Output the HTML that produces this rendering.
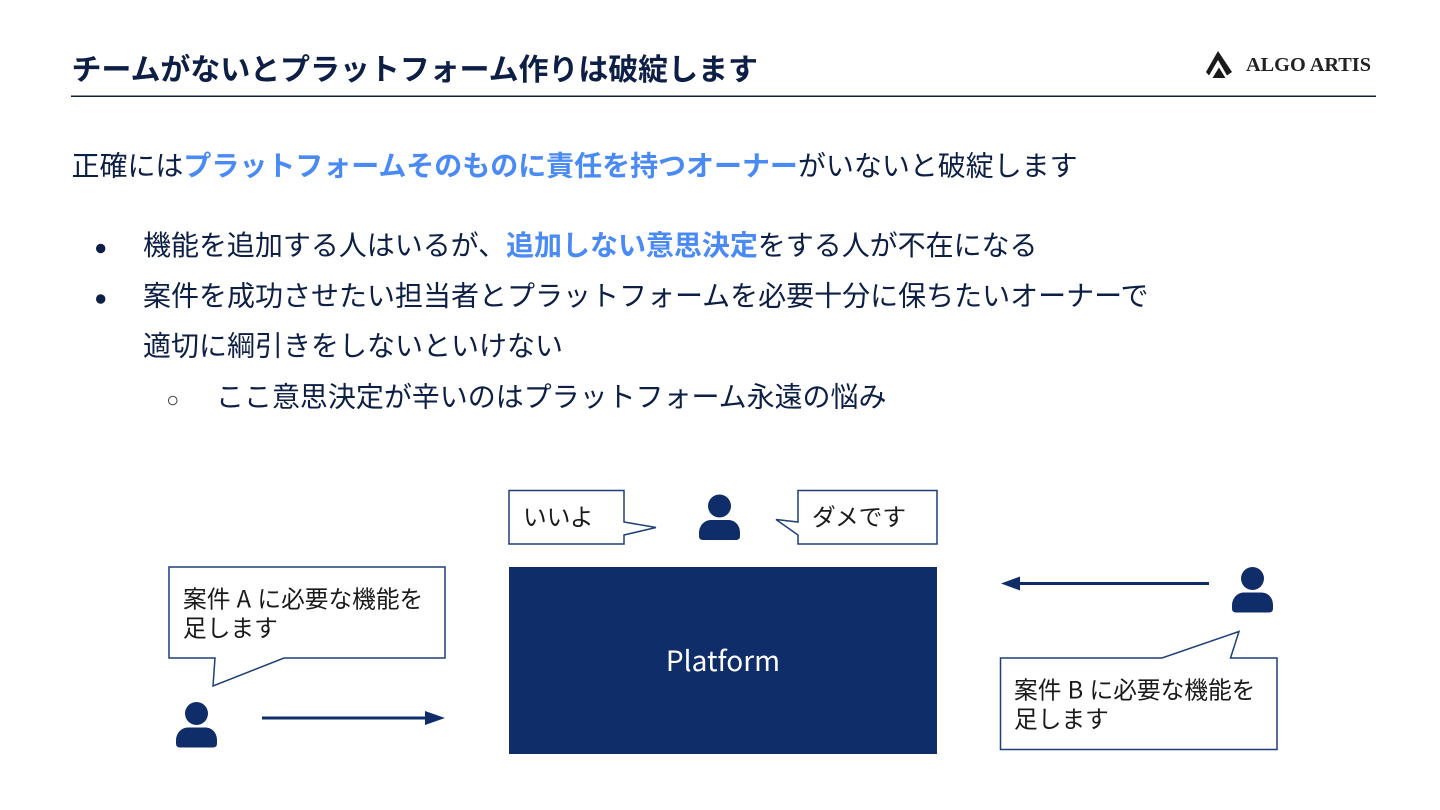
<!DOCTYPE html>
<html lang="ja">
<head>
<meta charset="utf-8">
<style>
html,body{margin:0;padding:0;background:#fff;width:1440px;height:810px;overflow:hidden}
svg{display:block}
text{font-family:"Noto Sans CJK JP","Liberation Sans",sans-serif;white-space:pre}
.t{fill:#0d1f45}
.b{fill:#4a8af4;font-weight:700}
.d{fill:#1a1a1a;font-size:23.700px}
.w{word-spacing:1px}
</style>
</head>
<body>
<svg width="1440" height="810" viewBox="0 0 1440 810" xmlns="http://www.w3.org/2000/svg">
<rect width="1440" height="810" fill="#fff"/>
<text x="71.500" y="80" class="t" font-size="30" font-weight="700" letter-spacing="-0.08">チームがないとプラットフォーム作りは破綻します</text>
<rect x="71" y="95.500" width="1305" height="1.500" fill="#0d1f45"/>
<!-- logo -->
<path d="M1218 51 L1232 72 L1227 75.500 L1218 60 L1209 75.500 L1206 72 Z" fill="#1a1a1a"/>
<path d="M1219 67.500 L1225.500 78 L1212.500 78 Z" fill="#1a1a1a"/>
<text x="1246" y="71" font-size="20" font-weight="700" fill="#222" textLength="125" lengthAdjust="spacingAndGlyphs" style='font-family:"Liberation Serif",serif'>ALGO ARTIS</text>
<!-- body -->
<text x="71.500" y="175.500" class="t" font-size="28" letter-spacing="-0.030">正確には<tspan class="b">プラットフォームそのものに責任を持つオーナー</tspan>がいないと破綻します</text>
<circle cx="100.700" cy="248.500" r="4.700" fill="#0d1f45"/>
<text x="143" y="255" class="t" font-size="28" letter-spacing="-0.030">機能を追加する人はいるが、<tspan class="b">追加しない意思決定</tspan>をする人が不在になる</text>
<circle cx="100.700" cy="299" r="4.700" fill="#0d1f45"/>
<text x="143" y="305.500" class="t" font-size="28">案件を成功させたい担当者とプラットフォームを必要十分に保ちたいオーナーで</text>
<text x="143" y="355.500" class="t" font-size="28">適切に綱引きをしないといけない</text>
<circle cx="172.700" cy="400.500" r="4.300" fill="none" stroke="#444" stroke-width="1"/>
<text x="216" y="406.500" class="t" font-size="28" letter-spacing="-0.030">ここ意思決定が辛いのはプラットフォーム永遠の悩み</text>
<!-- platform -->
<rect x="509" y="567" width="428" height="187" fill="#0f2e69"/>
<text x="723" y="671" text-anchor="middle" font-size="28" fill="#fff">Platform</text>
<!-- top bubbles -->
<path d="M509 490.500 H624 V522 L656 527.500 L624 535 V544 H509 Z" fill="#fff" stroke="#1f3f78" stroke-width="1.500"/>
<text x="523" y="525.500" class="d">いいよ</text>
<path d="M937 490.500 H798 V522 L776 519.500 L798 535 V544 H937 Z" fill="#fff" stroke="#1f3f78" stroke-width="1.500"/>
<text x="812" y="525.500" class="d">ダメです</text>
<!-- people -->
<g fill="#0f2e69">
<circle cx="719.500" cy="506" r="11.500"/>
<path d="M699 533 C699 525 705 520 711 520 H728 C735 520 740 525 740 533 V536 Q740 540 736 540 H703 Q699 540 699 536 Z"/>
<circle cx="196.500" cy="713.500" r="11.500"/>
<path d="M176 740.500 C176 732.500 182 727.500 188 727.500 H205 C212 727.500 217 732.500 217 740.500 V743.500 Q217 747.500 213 747.500 H180 Q176 747.500 176 743.500 Z"/>
<circle cx="1252.500" cy="578.500" r="11.500"/>
<path d="M1232 605.500 C1232 597.500 1238 592.500 1244 592.500 H1261 C1268 592.500 1273 597.500 1273 605.500 V608.500 Q1273 612.500 1269 612.500 H1236 Q1232 612.500 1232 608.500 Z"/>
</g>
<!-- left bubble -->
<path d="M169 567 H445 V658 H284 L213 686 L215 658 H169 Z" fill="#fff" stroke="#1f3f78" stroke-width="1.500"/>
<text x="183" y="607.500" class="d w">案件 A に必要な機能を</text>
<text x="183" y="636.500" class="d">足します</text>
<!-- right bubble -->
<path d="M1000.500 658 H1162 L1239 631.500 L1230.500 658 H1277 V749.500 H1000.500 Z" fill="#fff" stroke="#1f3f78" stroke-width="1.500"/>
<text x="1014" y="698.500" class="d w">案件 B に必要な機能を</text>
<text x="1014" y="727.500" class="d">足します</text>
<!-- arrows -->
<rect x="262" y="716.500" width="166" height="3" fill="#0f2e69"/>
<path d="M425 711 L445 718 L425 725 Z" fill="#0f2e69"/>
<rect x="1018" y="582" width="191" height="3" fill="#0f2e69"/>
<path d="M1020 576.500 L1001 583.500 L1020 590.500 Z" fill="#0f2e69"/>
</svg>
</body>
</html>
